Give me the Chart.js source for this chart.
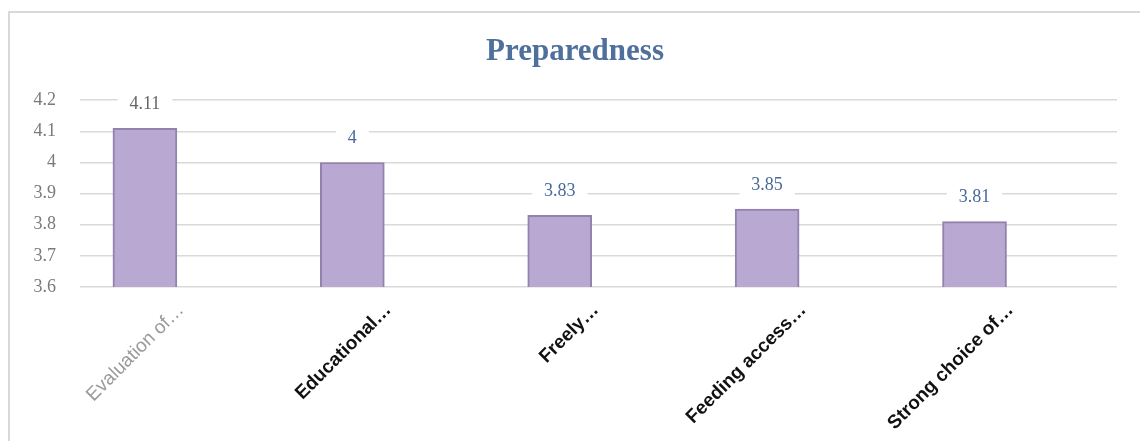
<!DOCTYPE html>
<html>
<head>
<meta charset="utf-8">
<script src="https://cdn.jsdelivr.net/npm/chart.js@4/dist/chart.umd.min.js"></script>
<style>
  body { margin: 0; background: #fff; }
  #wrap { position: relative; width: 1140px; height: 441px; overflow: hidden; }
  #frame { position: absolute; left: 8px; top: 11px; width: 1140px; height: 440px;
           border-left: 2px solid #d9d9d9; border-top: 2px solid #d9d9d9; }
  canvas { position: absolute; left: 0; top: 0; }
</style>
</head>
<body>
<div id="wrap">
  <div id="frame"></div>
  <canvas id="chart" width="1140" height="441"></canvas>
</div>
<script>
const categories = ['Evaluation of…', 'Educational…', 'Freely…', 'Feeding access…', 'Strong choice of…'];
const values = [4.11, 4, 3.83, 3.85, 3.81];
const valueLabels = ['4.11', '4', '3.83', '3.85', '3.81'];
const yMin = 3.6, yMax = 4.2, yStep = 0.1;

// value labels above each bar, with a white box behind like the original
const barLabels = {
  id: 'barLabels',
  afterDatasetsDraw(chart) {
    const ctx = chart.ctx;
    const meta = chart.getDatasetMeta(0);
    ctx.save();
    ctx.font = '18px "Liberation Serif"';
    ctx.textAlign = 'center';
    ctx.textBaseline = 'middle';
    meta.data.forEach((bar, i) => {
      const txt = valueLabels[i];
      const y = bar.y - 24;
      const w = ctx.measureText(txt).width + 24;
      ctx.fillStyle = '#fff';
      ctx.fillRect(bar.x - w / 2, y - 13, w, 26);
      ctx.fillStyle = i === 0 ? '#666' : '#4a6a9b';
      ctx.fillText(txt, bar.x, y);
    });
    ctx.restore();
  }
};

new Chart(document.getElementById('chart'), {
  type: 'bar',
  data: {
    datasets: [{
      data: values.map((v, i) => ({ x: i, y: v })),
      backgroundColor: '#b8a8d2',
      borderColor: '#9282ad',
      borderWidth: 2,
      borderSkipped: 'bottom',
      barThickness: 64
    }]
  },
  options: {
    responsive: false,
    animation: false,
    layout: { padding: { top: 2, left: 33, right: 23, bottom: 0 } },
    plugins: {
      legend: { display: false },
      tooltip: { enabled: false },
      title: {
        display: true,
        text: 'Preparedness',
        color: '#4f6f9c',
        font: { family: '"Liberation Serif"', size: 31, weight: 'bold' },
        padding: { top: 31, bottom: 30 }
      }
    },
    scales: {
      x: {
        type: 'linear',
        offset: false,
        min: -0.313,
        max: 4.687,
        grid: { display: false },
        border: { display: false },
        afterBuildTicks(scale) { scale.ticks = categories.map((c, i) => ({ value: i })); },
        afterFit(scale) { scale.height = 154; },
        ticks: {
          autoSkip: false,
          minRotation: 45,
          maxRotation: 45,
          padding: 4,
          labelOffset: 36,
          color: (c) => c.index === 0 ? '#9a9a9a' : '#111',
          font: (c) => ({ family: '"Liberation Sans"', size: 19, weight: c.index === 0 ? 'normal' : 'bold' }),
          callback: (v) => categories[v] ?? ''
        }
      },
      y: {
        min: yMin,
        max: yMax,
        grid: { color: '#d9d9d9', lineWidth: 1.5, drawTicks: false },
        border: { display: false },
        afterFit(scale) { scale.width = 47; },
        ticks: {
          stepSize: yStep,
          padding: 24,
          color: '#7a7a7a',
          font: { family: '"Liberation Serif"', size: 18 },
          callback: (v) => String(+v.toFixed(1))
        }
      }
    }
  },
  plugins: [barLabels]
});
</script>
</body>
</html>
